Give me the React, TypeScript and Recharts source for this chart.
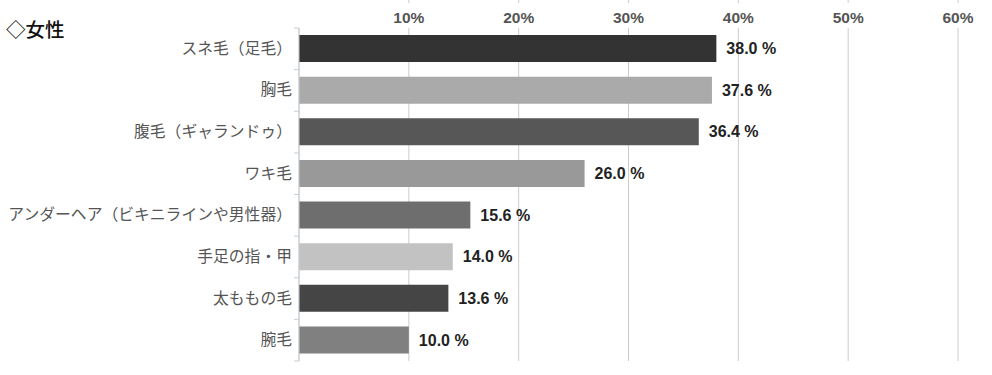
import { BarChart, Bar, XAxis, YAxis, CartesianGrid, Cell, LabelList } from 'recharts';

const categories = [
  'スネ毛（足毛）',
  '胸毛',
  '腹毛（ギャランドゥ）',
  'ワキ毛',
  'アンダーヘア（ビキニラインや男性器）',
  '手足の指・甲',
  '太ももの毛',
  '腕毛',
];
const values = [38.0, 37.6, 36.4, 26.0, 15.6, 14.0, 13.6, 10.0];
const barColors = ['#333333', '#aaaaaa', '#575757', '#999999', '#6e6e6e', '#c2c2c2', '#454545', '#808080'];
const xTicks = [10, 20, 30, 40, 50, 60];

const W = 992;
const H = 375;
const TOP = 28;
const BOTTOM = 14;
const BAND = (H - TOP - BOTTOM) / categories.length;

const jpFont = '"Noto Sans CJK JP", "Noto Sans", sans-serif';
const numFont = '"Liberation Sans", Arial, sans-serif';

const data = categories.map((name, i) => ({ name, value: values[i] }));

function XTick(props: any) {
  const { x, payload } = props;
  return (
    <g>
      <line x1={x} x2={x} y1={0} y2={3} stroke="#ccc" />
      <text x={x} y={23} textAnchor="middle" fontSize={15.5} fontWeight="bold" fill="#555" fontFamily={numFont}>
        {payload.value}%
      </text>
    </g>
  );
}

function YTick(props: any) {
  const { x, y, payload, index } = props;
  const last = index === categories.length - 1;
  return (
    <g>
      <line x1={x + 3} x2={x + 8} y1={y - BAND / 2} y2={y - BAND / 2} stroke="#c5d0d8" />
      {last && <line x1={x + 3} x2={x + 8} y1={y + BAND / 2} y2={y + BAND / 2} stroke="#c5d0d8" />}
      <text x={x + 1} y={y} dy={5} textAnchor="end" fontSize={15.8} fill="#555" fontFamily={jpFont}>
        {payload.value}
      </text>
    </g>
  );
}

export default function App() {
  return (
    <div style={{ position: 'absolute', left: 0, top: 0, width: W, height: H, background: '#fff' }}>
      <div
        style={{
          position: 'absolute',
          left: 6,
          top: 17,
          fontSize: 19.5,
          fontFamily: jpFont,
          color: '#111',
          lineHeight: '24px',
          fontWeight: 500,
        }}
      >
        ◇女性
      </div>
      <BarChart
        width={W}
        height={H}
        data={data}
        layout="vertical"
        margin={{ top: 0, right: 34, bottom: BOTTOM, left: 0 }}
      >
        <CartesianGrid horizontal={false} stroke="#cccccc" />
        <XAxis
          type="number"
          orientation="top"
          domain={[0, 60]}
          ticks={xTicks}
          height={TOP}
          axisLine={false}
          tickLine={false}
          tick={<XTick />}
        />
        <YAxis
          type="category"
          dataKey="name"
          width={299}
          axisLine={{ stroke: '#c5d0d8' }}
          tickLine={false}
          tick={<YTick />}
          interval={0}
        />
        <Bar dataKey="value" barSize={27} isAnimationActive={false}>
          {data.map((d, i) => (
            <Cell key={d.name} fill={barColors[i]} />
          ))}
          <LabelList
            dataKey="value"
            position="right"
            offset={10}
            formatter={(v: any) => `${Number(v).toFixed(1)} %`}
            style={{ fontSize: 16, fontWeight: 'bold', fill: '#222', fontFamily: numFont }}
          />
        </Bar>
      </BarChart>
    </div>
  );
}
